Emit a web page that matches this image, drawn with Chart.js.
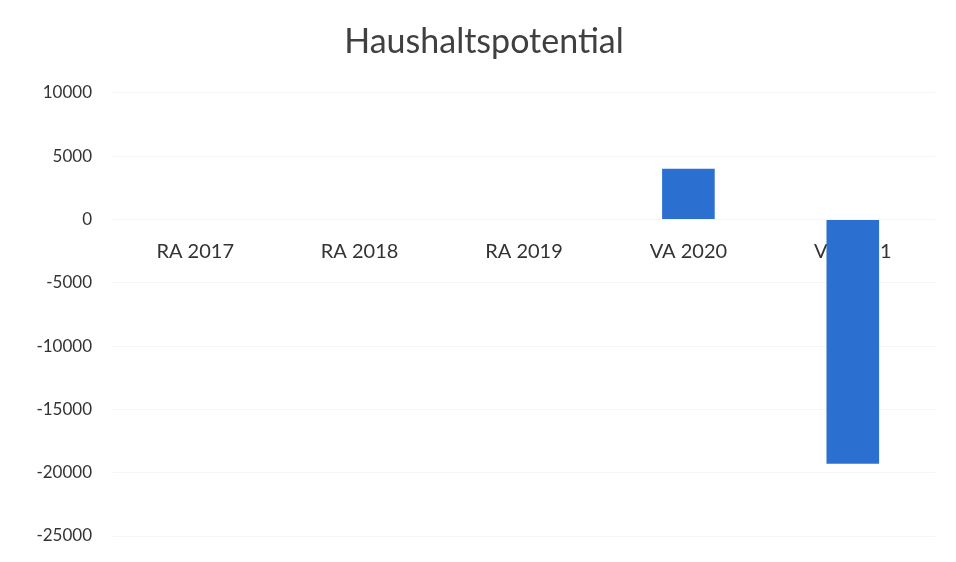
<!DOCTYPE html>
<html>
<head>
<meta charset="utf-8">
<script src="https://cdn.jsdelivr.net/npm/chart.js@4"></script>
<style>
  html, body { margin: 0; padding: 0; background: #fff; }
  #wrap { width: 956px; height: 562px; }
</style>
</head>
<body>
<div id="wrap"><canvas id="myChart" width="956" height="562"></canvas></div>
<script>
const categories = ['RA 2017', 'RA 2018', 'RA 2019', 'VA 2020', 'VA 2021'];
const potential = [0, 0, 0, 4000, -19300];
const yMin = -25000;
const yMax = 10000;
const yStep = 5000;

const ctx = document.getElementById('myChart');

new Chart(ctx, {
    type: 'bar',
    data: {
        labels: categories,
        datasets: [{
            label: 'Haushaltspotential',
            data: potential,
            backgroundColor: '#2b70d0',
            borderWidth: 0,
            barPercentage: 0.32,
            categoryPercentage: 1
        }]
    },
    options: {
        responsive: false,
        animation: false,
        layout: {
            padding: { left: 33, right: 21, top: 14, bottom: 26 }
        },
        plugins: {
            legend: { display: false },
            tooltip: { enabled: false },
            title: {
                display: true,
                text: 'Haushaltspotential',
                color: '#404040',
                font: { family: 'Lato', size: 34, weight: 'normal' },
                padding: { top: 8, bottom: 30 }
            }
        },
        scales: {
            x: {
                position: { y: 0 },
                grid: { display: false },
                border: { display: false },
                ticks: {
                    color: '#333',
                    padding: 12,
                    font: { family: 'Lato', size: 20 }
                }
            },
            y: {
                min: yMin,
                max: yMax,
                grid: { color: 'rgba(0,0,0,0.04)', drawTicks: false },
                border: { display: false },
                // fixed axis width; the tick padding should not eat the bottom of the plot
                afterFit: (scale) => {
                    scale.width = 80;
                    scale.paddingTop = 0;
                    scale.paddingBottom = 0;
                },
                ticks: {
                    stepSize: yStep,
                    color: '#333',
                    padding: 21,
                    font: { family: 'Lato', size: 17 },
                    callback: (v) => String(v)
                }
            }
        }
    }
});
</script>
</body>
</html>
